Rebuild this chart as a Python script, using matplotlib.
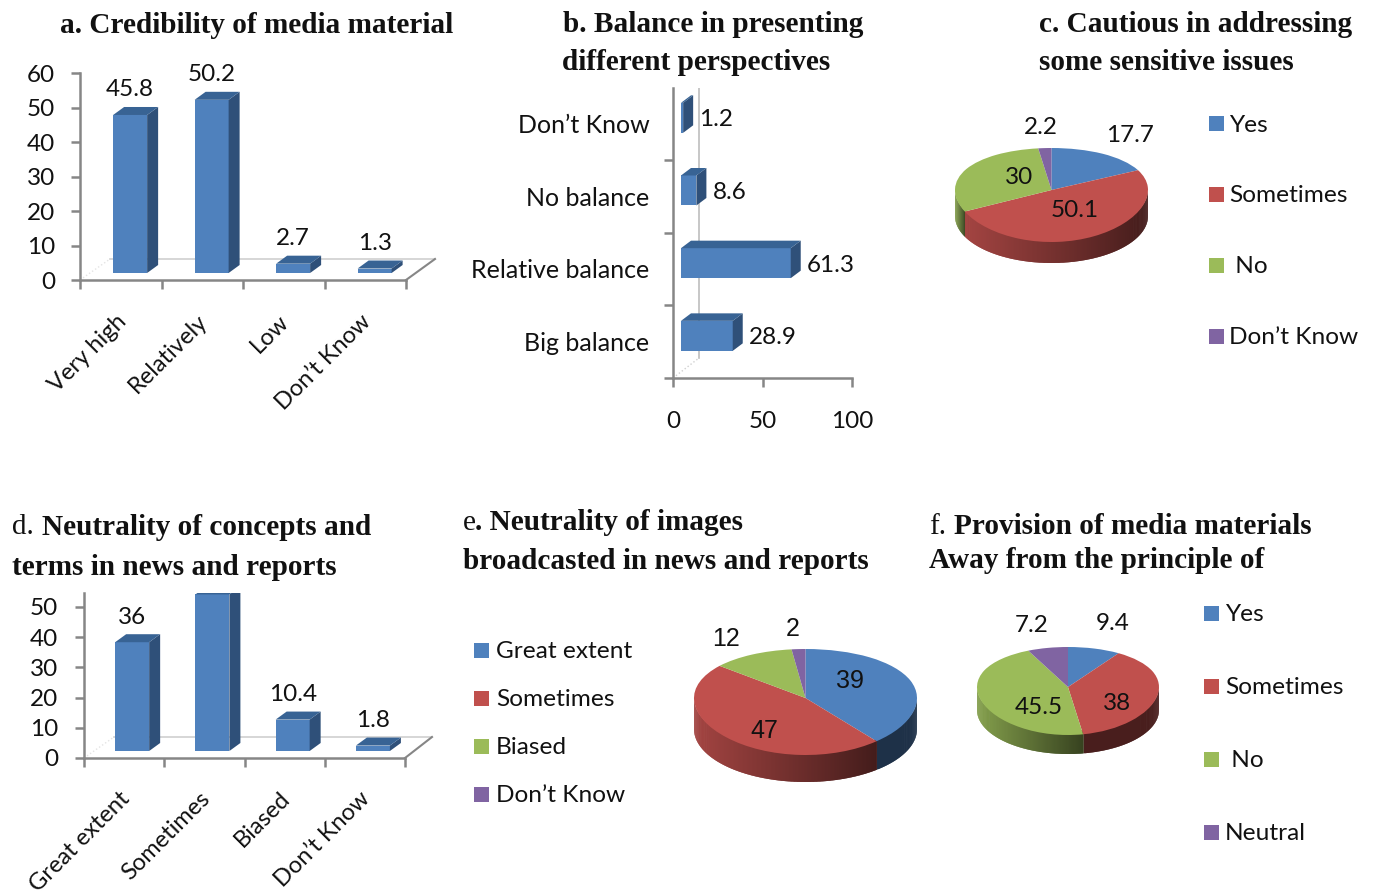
import numpy as np
import matplotlib
matplotlib.use('Agg')
import matplotlib.pyplot as plt
from matplotlib.patches import Polygon, Rectangle

W, H = 1373, 894
LABEL_FONT = 'Lato'
TITLE_FONT = 'Liberation Serif'
AXIS_GRAY = '#868686'
BACK_GRAY = '#d0d0d0'
FRONT = '#4f81bd'
SIDE = '#2f5079'
TOP = '#386394'
PIE_COLORS = ['#4f81bd', '#c0504d', '#9bbb59', '#8064a2']
NUM_SIZE = 17.5
CAT_SIZE = 17.6
SLANT_SIZE = 17

# a. credibility
a_cats = ['Very high', 'Relatively', 'Low', 'Don’t Know']
a_vals = [45.8, 50.2, 2.7, 1.3]
a_labels = ['45.8', '50.2', '2.7', '1.3']

# b. balance
b_cats = ['Big balance', 'Relative balance', 'No balance', 'Don’t Know']
b_vals = [28.9, 61.3, 8.6, 1.2]
b_labels = ['28.9', '61.3', '8.6', '1.2']

# c. cautious
c_cats = ['Yes', 'Sometimes', ' No', 'Don’t Know']
c_vals = [17.7, 50.1, 30, 2.2]

# d. neutrality of concepts (second bar runs past the top of the axis, no label)
d_cats = ['Great extent', 'Sometimes', 'Biased', 'Don’t Know']
d_vals = [36, 51.8, 10.4, 1.8]
d_labels = ['36', None, '10.4', '1.8']

# e. neutrality of images
e_cats = ['Great extent', 'Sometimes', 'Biased', 'Don’t Know']
e_vals = [39, 47, 12, 2]

# f. provision of media materials
f_cats = ['Yes', 'Sometimes', ' No', 'Neutral']
f_vals = [9.4, 38, 45.5, 7.2]

fig = plt.figure(figsize=(W / 100, H / 100), dpi=100, facecolor='white')


def px_axes(left, top, right, bottom, **kw):
    return fig.add_axes([left / W, 1 - bottom / H, (right - left) / W, (bottom - top) / H], **kw)


def px_text(x, y, s, size=CAT_SIZE, family=LABEL_FONT, ha='left', va='center', **kw):
    return fig.text(x / W, 1 - (y + 1.5) / H, s, fontsize=size, family=family, ha=ha, va=va,
                    color='#111111', **kw)


def style_axis(ax):
    for name in ['top', 'right']:
        ax.spines[name].set_visible(False)
    for name in ['left', 'bottom']:
        ax.spines[name].set_color(AXIS_GRAY)
        ax.spines[name].set_linewidth(1.8)
    ax.patch.set_alpha(0)


def column_panel(rect, vals, cats, labels, ymax, yticks, first_x, name_y, pad):
    left, top, right, bottom, right_cat = rect
    ax = px_axes(left, top, right, bottom)
    style_axis(ax)
    ux = (right_cat - left) / 4
    uy = (bottom - top) / ymax
    ax.set_xlim(0, (right - left) / ux)
    ax.set_ylim(0, ymax)
    ax.spines['bottom'].set_bounds(0, 4)

    dx, dy = 11 / ux, 8 / uy
    base = 7 / uy
    width = 34 / ux
    floor_x, floor_y = (right - right_cat) / ux, 21 / uy

    # floor of the box behind the columns
    ax.plot([30 / ux, 4 + floor_x], [floor_y, floor_y], color=BACK_GRAY, lw=1.2, zorder=1)
    ax.plot([0, 30 / ux], [0, floor_y], color='#e4e4e4', lw=1, ls=':', zorder=1)
    ax.plot([4, 4 + floor_x], [0, floor_y], color=AXIS_GRAY, lw=1.5, zorder=1, clip_on=False)

    xs = np.arange(len(vals)) + first_x
    for x, v, lab in zip(xs, vals, labels):
        x0, x1 = x - width / 2, x + width / 2
        y1 = base + v
        ax.bar(x, v, width, bottom=base, color=FRONT, zorder=3)
        ax.add_patch(Polygon([(x1, base), (x1 + dx, base + dy), (x1 + dx, y1 + dy), (x1, y1)],
                             color=SIDE, lw=0, zorder=3))
        ax.add_patch(Polygon([(x0, y1), (x1, y1), (x1 + dx, y1 + dy), (x0 + dx, y1 + dy)],
                             color=TOP, lw=0, zorder=3))
        if lab:
            ax.annotate(lab, (x, y1 + dy), xytext=(0, 17), textcoords='offset pixels', ha='center',
                        va='center', fontsize=NUM_SIZE, family=LABEL_FONT, color='#111111')

    ax.set_yticks(yticks)
    ax.set_xticks(range(5))
    ax.set_xticklabels([])
    ax.tick_params(axis='both', color=AXIS_GRAY, width=1.8, length=6.5)
    ax.tick_params(axis='y', labelsize=NUM_SIZE, pad=pad, labelcolor='#111111')
    for t in ax.get_yticklabels():
        t.set_family(LABEL_FONT)

    for i, cat in enumerate(cats):
        ax.annotate(cat, (i + 0.5, 0), xytext=(2, -name_y), textcoords='offset pixels', rotation=45,
                    rotation_mode='anchor', ha='right', va='center', fontsize=SLANT_SIZE,
                    family=LABEL_FONT, color='#111111', annotation_clip=False)
    return ax


def hbar_panel():
    left, top, right, bottom = 673, 88, 852, 378
    ax = px_axes(left, top, right, bottom)
    style_axis(ax)
    ux = (right - left) / 100
    uy = (bottom - 87.3) / 4
    ax.set_xlim(0, 100)
    ax.set_ylim(0, (bottom - top) / uy)

    dx, dy = 10 / ux, 7.5 / uy
    base = 8 / ux
    height = 30 / uy
    back_x = 26 / ux

    ax.plot([back_x, back_x], [20 / uy, (bottom - top) / uy], color='#bdbdbd', lw=1.2, zorder=1)
    ax.plot([0, back_x], [0, 20 / uy], color=BACK_GRAY, lw=1, ls=':', zorder=1)

    ys = np.arange(len(b_vals)) + 0.58
    for y, v, lab in zip(ys, b_vals, b_labels):
        y0, y1 = y - height / 2, y + height / 2
        x1 = base + v
        ax.barh(y, v, height, left=base, color=FRONT, zorder=3)
        ax.add_patch(Polygon([(x1, y0), (x1 + dx, y0 + dy), (x1 + dx, y1 + dy), (x1, y1)],
                             color=SIDE, lw=0, zorder=3))
        ax.add_patch(Polygon([(base, y1), (x1, y1), (x1 + dx, y1 + dy), (base + dx, y1 + dy)],
                             color=TOP, lw=0, zorder=3))
        ax.annotate(lab, (x1 + dx, y), xytext=(6, -2), textcoords='offset pixels', ha='left',
                    va='center', fontsize=NUM_SIZE, family=LABEL_FONT, color='#111111',
                    annotation_clip=False)

    ax.set_xticks([0, 50, 100])
    ax.set_yticks(range(4))
    ax.set_yticklabels([])
    ax.tick_params(axis='both', color=AXIS_GRAY, width=1.8, length=6.5)
    ax.tick_params(axis='x', labelsize=NUM_SIZE, pad=17, labelcolor='#111111')
    for t in ax.get_xticklabels():
        t.set_family(LABEL_FONT)
    ax.set_yticks(np.arange(4) + 0.5, minor=True)
    ax.set_yticklabels(b_cats, minor=True, fontsize=18, family=LABEL_FONT, color='#111111')
    ax.tick_params(axis='y', which='minor', length=0, pad=17)


def pie_panel(vals, cx, cy, rx, ry, depth, lift):
    # rim of the disc, shaded in thin strips along the front half
    fracs = np.cumsum(vals) / np.sum(vals) * 360
    rect = (cx - rx, cy - ry, cx + rx, cy + ry)
    side = px_axes(*rect)
    side.set_xlim(-1, 1)
    side.set_ylim(-1, 1)
    side.axis('off')
    d = depth / ry
    thetas = np.linspace(90, 270, 241)
    slice_idx = np.searchsorted(fracs, (thetas[:-1] + thetas[1:]) / 2)
    for idx in np.unique(slice_idx):
        seg = np.where(slice_idx == idx)[0]
        x_lo = np.sin(np.radians(thetas[seg[-1] + 1]))
        x_hi = np.sin(np.radians(thetas[seg[0]]))
        for j in seg:
            # each strip reaches back over the previous one so no seams show
            t0, t1 = np.radians(thetas[max(j - 1, seg[0])]), np.radians(thetas[j + 1])
            xm = np.sin(np.radians((thetas[j] + thetas[j + 1]) / 2))
            shade = 0.38
            if x_lo < -0.5:
                shade = 0.85 - 0.5 * (xm - x_lo) / max(x_hi - x_lo, 1e-6)
            col = np.array(matplotlib.colors.to_rgb(PIE_COLORS[idx])) * shade
            xa, xb = np.sin(t0), np.sin(t1)
            ya, yb = np.cos(t0), np.cos(t1)
            side.add_patch(Polygon([(xa, ya + lift), (xb, yb + lift), (xb, yb - d), (xa, ya - d)],
                                   facecolor=col, edgecolor='none', lw=0, clip_on=False))

    # top face, y warped a little so the centre sits above the middle of the ellipse
    ax = px_axes(*rect)
    ax.pie(vals, colors=PIE_COLORS, startangle=90, counterclock=False,
           wedgeprops=dict(clip_on=False, linewidth=0))
    ax.set_aspect('auto')

    def forward(y):
        return y + lift * (1 - y * y)

    def inverse(y):
        return (1 - np.sqrt(np.maximum(1 - 4 * lift * (y - lift), 0))) / (2 * lift)

    ax.set_yscale('function', functions=(forward, inverse))
    ax.set_xlim(-1, 1)
    ax.set_ylim(-1, 1)
    ax.axis('off')


def legend(x, ys, cats, text_x):
    for y, cat, col in zip(ys, cats, PIE_COLORS):
        fig.add_artist(Rectangle((x / W, 1 - (y + 7.5) / H), 15 / W, 15 / H, color=col, lw=0,
                                 transform=fig.transFigure))
        px_text(text_x, y, cat)


column_panel((80, 73, 435, 280, 406), a_vals, a_cats, a_labels, 60, range(0, 61, 10), 0.615, 38, 11.5)
hbar_panel()
column_panel((84, 593, 432, 758, 405), d_vals, d_cats, d_labels, 54.6, range(0, 51, 10), 0.6, 37, 12)

pie_panel(c_vals, 1051.5, 195, 96.5, 47, 21, 0.106)
pie_panel(e_vals, 805.5, 702, 111.5, 53, 27, 0.075)
pie_panel(f_vals, 1068, 691, 91, 44, 19, 0.09)

legend(1209, [123.5, 194.5, 265, 336], c_cats, 1229)
legend(474, [650, 698, 746, 794], e_cats, 496)
legend(1204, [613, 686, 759, 832], f_cats, 1225)

# value labels on the pies
for x, y, s in [(1130, 134, '17.7'), (1041, 126, '2.2'), (1019, 176, '30'), (1075, 209, '50.1'),
                (1113, 622, '9.4'), (1117, 702, '38'), (1039, 706, '45.5'), (1032, 624, '7.2')]:
    px_text(x, y, s, size=NUM_SIZE, ha='center')
for x, y, s in [(850, 679, '39'), (764, 729, '47'), (726, 637, '12'), (793, 627, '2')]:
    px_text(x, y, s, size=18, family='Liberation Sans', ha='center')

# panel headings
for x, y, s, w in [(60, 24, 'a. Credibility of media material', 'bold'),
                   (563, 23, 'b. Balance in presenting', 'bold'),
                   (562, 61, 'different perspectives', 'bold'),
                   (1039, 23, 'c. Cautious in addressing', 'bold'),
                   (1039, 61, 'some sensitive issues', 'bold'),
                   (12, 526, 'd.', 'normal'),
                   (42, 526, 'Neutrality of concepts and', 'bold'),
                   (12, 566, 'terms in news and reports', 'bold'),
                   (463, 521, 'e', 'normal'),
                   (475, 521, '. Neutrality of images', 'bold'),
                   (463, 560, 'broadcasted in news and reports', 'bold'),
                   (929, 525, 'f.', 'normal'),
                   (954, 525, 'Provision of media materials', 'bold'),
                   (929, 559, 'Away from the principle of', 'bold')]:
    px_text(x, y, s, size=21.1, family=TITLE_FONT, fontweight=w)

fig.savefig('out.png', dpi=100)
